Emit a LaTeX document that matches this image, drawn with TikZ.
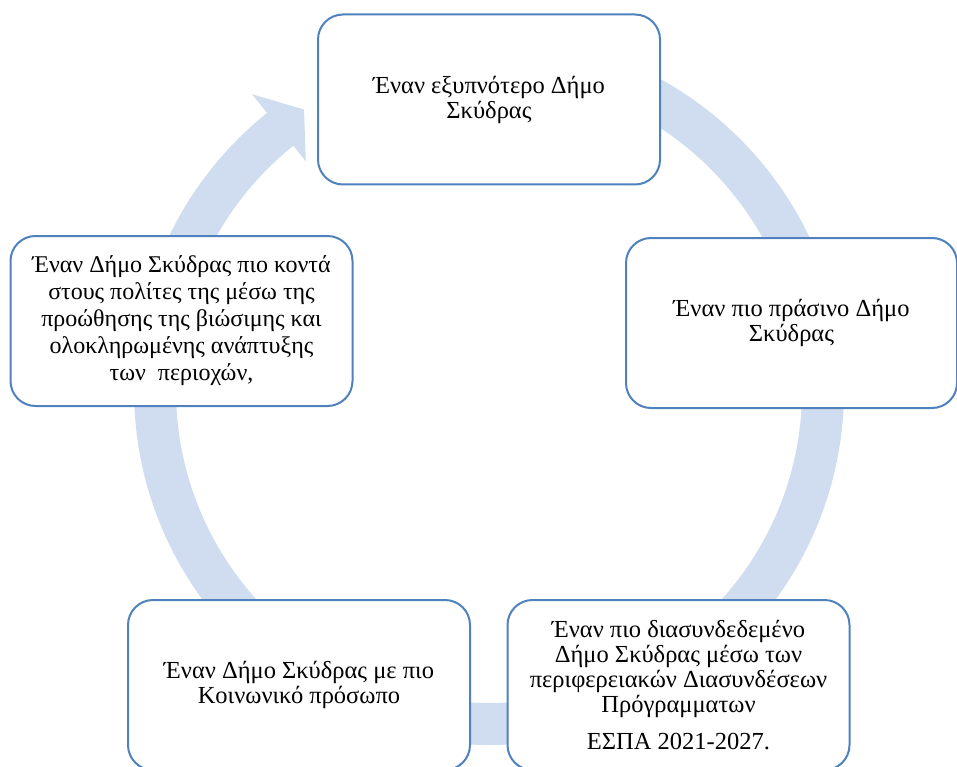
\documentclass[tikz,border=0pt]{standalone}
\usepackage{fontspec}
\setmainfont{Liberation Serif}
\usetikzlibrary{calc}
\definecolor{ringblue}{RGB}{208,220,239}
\definecolor{edgeblue}{RGB}{79,129,189}
\tikzset{
  card/.style={draw=edgeblue, line width=2pt, fill=white, rounded corners=25pt,
    align=center, inner sep=0pt, minimum width=342pt, minimum height=170pt},
  txt/.style={font=\fontsize{24.5}{25}\selectfont},
  txtbig/.style={font=\fontsize{24}{27}\selectfont},
  ringline/.style={draw=ringblue, line width=42pt},
}
\begin{document}
\begin{tikzpicture}[x=1pt,y=-1pt]
\useasboundingbox (0,0) rectangle (957,767);
\clip (0,0) rectangle (957,767);
\coordinate (c) at (489,390);
% ring
\draw[ringline] (c) ++(-90:334) arc[start angle=-90, end angle=231.6, radius=334];
\fill[ringblue] ($(c)+(231.3:379)$) -- ($(c)+(236.6:336)$) -- ($(c)+(231.3:293)$) -- cycle;
% boxes
\node[card, txt] (top) at (489,99.5) {Έναν εξυπνότερο Δήμο\\Σκύδρας};
\node[card, txt, minimum width=331pt] (right) at (791.5,323) {Έναν πιο πράσινο Δήμο\\Σκύδρας};
\node[card, txtbig] (left) at (181.5,321) {Έναν Δήμο Σκύδρας πιο κοντά\\στους πολίτες της μέσω της\\προώθησης της βιώσιμης και\\ολοκληρωμένης ανάπτυξης\\των \ περιοχών,};
\node[card, txt] (br) at (678.5,685) {Έναν πιο διασυνδεδεμένο\\Δήμο Σκύδρας μέσω των\\περιφερειακών Διασυνδέσεων\\Πρόγραμματων\\[12pt]ΕΣΠΑ 2021-2027.};
\node[card, txt] (bl) at (299,685) {Έναν Δήμο Σκύδρας με πιο\\Κοινωνικό πρόσωπο};
\end{tikzpicture}
\end{document}
